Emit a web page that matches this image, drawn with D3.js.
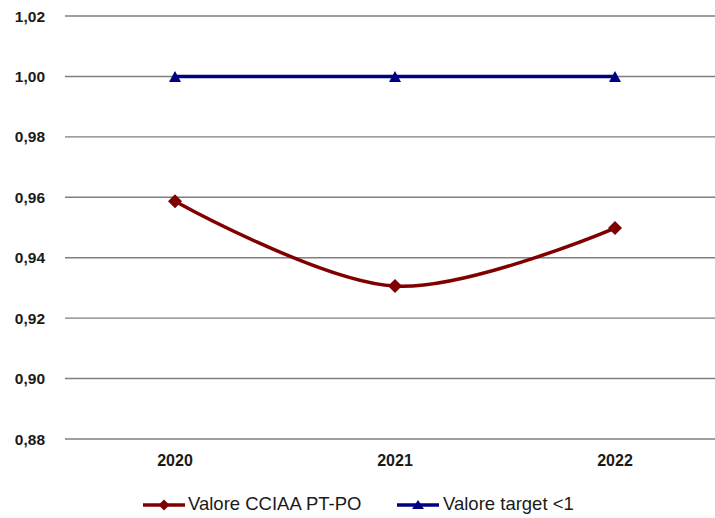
<!DOCTYPE html>
<html><head><meta charset="utf-8">
<script src="https://cdn.jsdelivr.net/npm/d3@7"></script>
<style>body{margin:0;background:#fff}svg{display:block}</style>
</head><body><svg id="c" width="715" height="518"></svg>
<script>
const categories = ["2020","2021","2022"];
const seriesCCIAA = [0.9587, 0.9306, 0.9498];
const seriesTarget = [1.00, 1.00, 1.00];
const yTicks = [0.88,0.90,0.92,0.94,0.96,0.98,1.00,1.02];
const seriesNames = ["Valore CCIAA PT-PO","Valore target <1"];

(function(){
const svg = d3.select("#c");
const mLeft = 65, mRight = 725, mTop = 16, mBottom = 439;
const x = d3.scaleBand().domain(categories).range([mLeft, mRight]);
const y = d3.scaleLinear().domain([0.88, 1.02]).range([mBottom, mTop]);
const cx = d => x(d) + x.bandwidth()/2;
const font = "Liberation Sans, Arial, sans-serif";

svg.append("g").selectAll("line").data(yTicks).join("line")
  .attr("x1", mLeft).attr("x2", 715)
  .attr("y1", d => y(d)).attr("y2", d => y(d))
  .attr("stroke", "#7f7f7f").attr("stroke-width", 1.4);

svg.append("g").selectAll("text").data(yTicks).join("text")
  .attr("x", 45).attr("y", d => y(d)).attr("dy", "0.36em")
  .attr("text-anchor", "end").attr("font-family", font)
  .attr("font-weight", "bold").attr("font-size", 15.5).attr("fill", "#1a1a1a")
  .text(d => d3.format(".2f")(d).replace(".", ","));

svg.append("g").selectAll("text").data(categories).join("text")
  .attr("x", d => cx(d)).attr("y", 466)
  .attr("text-anchor", "middle").attr("font-family", font)
  .attr("font-weight", "bold").attr("font-size", 16).attr("fill", "#1a1a1a")
  .text(d => d);

const red = "#800000", blue = "#000080";
const diamond = "M0,-7L7,0L0,7L-7,0Z";
const tri = "M0,-5.5L6,5.5L-6,5.5Z";

svg.append("path").datum(seriesTarget)
  .attr("d", d3.line().x((d,i) => cx(categories[i])).y(d => y(d)))
  .attr("fill", "none").attr("stroke", blue).attr("stroke-width", 3.5);
svg.append("g").selectAll("path").data(seriesTarget).join("path")
  .attr("d", tri)
  .attr("transform", (d,i) => `translate(${cx(categories[i])},${y(d)})`)
  .attr("fill", blue);

svg.append("path").datum(seriesCCIAA)
  .attr("d", d3.line().curve(d3.curveCatmullRom.alpha(0.5)).x((d,i) => cx(categories[i])).y(d => y(d)))
  .attr("fill", "none").attr("stroke", red).attr("stroke-width", 3.5);
svg.append("g").selectAll("path").data(seriesCCIAA).join("path")
  .attr("d", diamond)
  .attr("transform", (d,i) => `translate(${cx(categories[i])},${y(d)})`)
  .attr("fill", red);

const legItems = [
  {name: seriesNames[0], color: red, sym: "M0,-5.5L5.5,0L0,5.5L-5.5,0Z", x0: 143, tx: 188},
  {name: seriesNames[1], color: blue, sym: "M0,-5L6,4L-6,4Z", x0: 397, tx: 443}
];
const ly = 505;
legItems.forEach(it => {
  svg.append("line").attr("x1", it.x0).attr("x2", it.x0 + 42)
    .attr("y1", ly).attr("y2", ly).attr("stroke", it.color).attr("stroke-width", 3.5);
  svg.append("path").attr("d", it.sym)
    .attr("transform", `translate(${it.x0 + 21},${ly})`).attr("fill", it.color);
  svg.append("text").attr("x", it.tx).attr("y", 510)
    .attr("font-family", font).attr("font-size", 18.5).attr("fill", "#1a1a1a")
    .text(it.name);
});
})();
</script></body></html>
